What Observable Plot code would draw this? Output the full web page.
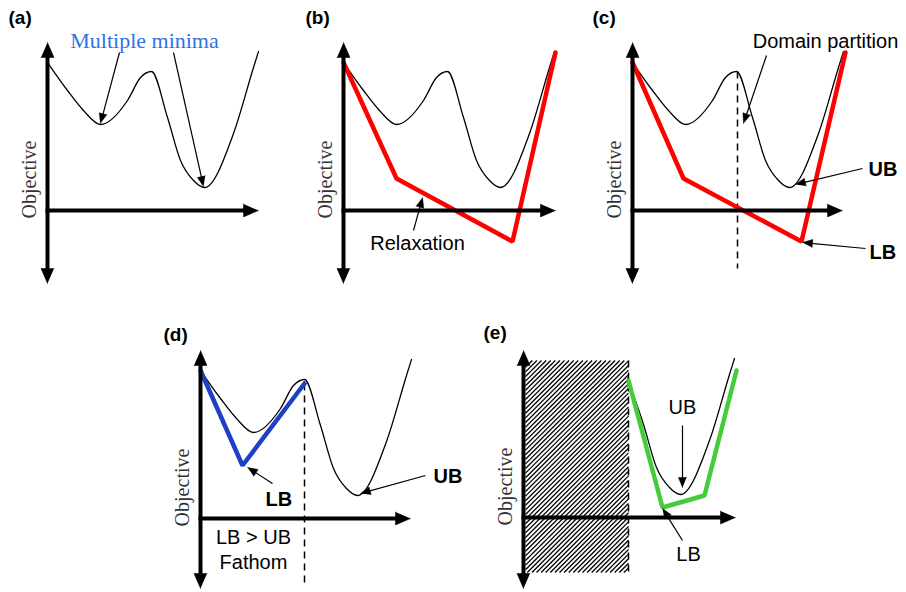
<!DOCTYPE html>
<html><head><meta charset="utf-8">
<script src="https://cdn.jsdelivr.net/npm/d3@7"></script>
<script src="https://cdn.jsdelivr.net/npm/@observablehq/plot@0.6"></script>
<style>body{margin:0;background:#fff}</style>
</head><body><div id="chart"></div>
<script>
// ---- data (panel-local units: x = decision variable, y = objective) ----
const landscapeX = [0, 20, 36, 53, 80, 93, 104, 120, 133, 146, 157, 186, 206, 211];
const landscapeY = [148, 120, 100, 86, 110, 133, 139, 93, 50, 30, 23, 77, 143, 159];
const relaxBX = [0, 53, 169, 212];
const relaxBY = [148, 32, -31, 158];
const relaxCX = [0, 51, 169, 213];
const relaxCY = [148, 32, -31, 158];
const relaxDX = [0, 42, 104];
const relaxDY = [148, 53, 135];
const relaxEX = [105, 139, 181, 213];
const relaxEY = [137, 10, 22, 147];
const partitionX = 104;
const panels = ["a", "b", "c", "d", "e"];
const panelLabels = ["(a)", "(b)", "(c)", "(d)", "(e)"];
const axisLabel = "Objective";

// ---- layout ----
const origin = {a: [47, 210], b: [343, 210], c: [632, 210], d: [200, 518], e: [523, 517]};
const axisTop = {a: 168, b: 168, c: 168, d: 168, e: 167};
const axisBottom = {a: -73, b: -73, c: -73, d: -70, e: -71};
const axisRight = {a: 211, b: 212, c: 210, d: 210, e: 212};
const G = (p, x, y) => ({x: origin[p][0] + x, y: origin[p][1] - y});

const SANS = "Liberation Sans, Arial, sans-serif";
const SERIF = "Liberation Serif, Times New Roman, serif";

// curves
const curves = [];
for (const p of ["a", "b", "c", "d"]) landscapeX.forEach((x, i) => curves.push({...G(p, x, landscapeY[i]), panel: p}));
landscapeX.forEach((x, i) => { if (x >= partitionX) curves.push({...G("e", x, landscapeY[i]), panel: "e"}); });

// relaxations
const relax = [];
const addRelax = (p, xs, ys, color) => xs.forEach((x, i) => relax.push({...G(p, x, ys[i]), panel: p, color}));
addRelax("b", relaxBX, relaxBY, "#ff0000");
addRelax("c", relaxCX, relaxCY, "#ff0000");
addRelax("d", relaxDX, relaxDY, "#1f3fc4");
addRelax("e", relaxEX, relaxEY, "#44cc3c");

// arrows helpers
const shafts = [], heads = [];
let hid = 0;
function arrow(p, lx1, ly1, lx2, ly2, L, W, width) {
  const a = G(p, lx1, ly1), b = G(p, lx2, ly2);
  const dx = b.x - a.x, dy = b.y - a.y, d = Math.hypot(dx, dy), ux = dx / d, uy = dy / d, nx = -uy, ny = ux;
  shafts.push({x1: a.x, y1: a.y, x2: b.x - 0.6 * L * ux, y2: b.y - 0.6 * L * uy, w: width});
  const id = hid++;
  heads.push({id, x: b.x, y: b.y}, {id, x: b.x - L * ux + W * nx, y: b.y - L * uy + W * ny},
             {id, x: b.x - L * ux - W * nx, y: b.y - L * uy - W * ny});
}
// axes (double-headed vertical, single-headed horizontal)
for (const p of panels) {
  arrow(p, 0, 0, 0, axisTop[p], 15, 6.5, 4);
  arrow(p, 0, 0, 0, axisBottom[p], 15, 6.5, 4);
  arrow(p, -2, 0, axisRight[p], 0, 15, 6.5, 4);
}
// annotation arrows
const annot = [
  ["a", 72, 158, 53, 87], ["a", 126, 158, 156, 24],
  ["b", 70, -20, 79, 13],
  ["c", 134, 155, 111, 87], ["c", 230, 42, 163, 26], ["c", 233, -38, 170, -32],
  ["d", 72, 35, 47, 51], ["d", 225, 43, 160, 25],
  ["e", 159, 92, 159, 30], ["e", 159, -23, 139, 9]
];
for (const [p, x1, y1, x2, y2] of annot) arrow(p, x1, y1, x2, y2, 10, 4, 1.2);

// dashed partitions
const dashes = [
  {...G("c", 105, 139), x2: G("c", 105, -58).x, y2: G("c", 105, -58).y},
  {...G("d", partitionX, 135), x2: G("d", partitionX, -69).x, y2: G("d", partitionX, -69).y},
  {...G("e", 105, 157), x2: G("e", 105, -55).x, y2: G("e", 105, -55).y}
];

// hatch (fathomed region in e)
const hx1 = 2, hx2 = 105, hy1 = -55, hy2 = 157, step = 4.6;
const hatch = [];
for (let c = hy1 - hx2; c <= hy2 - hx1; c += step) {
  const xa = Math.max(hx1, hy1 - c), xb = Math.min(hx2, hy2 - c);
  if (xb > xa) {
    const s = G("e", xa, xa + c), t = G("e", xb, xb + c);
    hatch.push({x1: s.x, y1: s.y, x2: t.x, y2: t.y});
  }
}

// texts grouped by style
const textsSansMid = [
  {...G("b", 74, -39), text: "Relaxation"},
  {...G("c", 193, 163), text: "Domain partition"},
  {...G("d", 53, -25), text: "LB > UB"},
  {...G("d", 53, -50), text: "Fathom"},
  {...G("e", 159, 104), text: "UB"},
  {...G("e", 165, -43), text: "LB"}
];
const textsBoldStart = [
  {...G("c", 236, 35), text: "UB"},
  {...G("c", 237, -48), text: "LB"},
  {...G("d", 65, 13), text: "LB"},
  {...G("d", 233, 36), text: "UB"}
];
const labelPos = {a: [-39, 187], b: [-38, 187], c: [-40, 187], d: [-37, 178], e: [-40, 179]};
const panelTexts = panels.map((p, i) => ({...G(p, labelPos[p][0], labelPos[p][1]), text: panelLabels[i]}));
const titleA = [{...G("a", 97, 163), text: "Multiple minima"}];
const yLabels = panels.map(p => ({...G(p, -18, 31), text: axisLabel}));

const chart = Plot.plot({
  width: 906, height: 592, margin: 0,
  x: {domain: [0, 906], axis: null},
  y: {domain: [0, 592], range: [0, 592], axis: null},
  style: {background: "white"},
  marks: [
    Plot.link(hatch, {x1: "x1", y1: "y1", x2: "x2", y2: "y2", stroke: "black", strokeWidth: 1.3}),
    Plot.link(dashes, {x1: "x", y1: "y", x2: "x2", y2: "y2", stroke: "black", strokeWidth: 1.5, strokeDasharray: "7,5"}),
    Plot.line(curves, {x: "x", y: "y", z: "panel", curve: "monotone-x", stroke: "black", strokeWidth: 1.3}),
    Plot.line(relax, {x: "x", y: "y", z: "panel", stroke: "color", strokeWidth: 4.5, strokeLinejoin: "miter"}),
    Plot.link(shafts, {x1: "x1", y1: "y1", x2: "x2", y2: "y2", stroke: "black", strokeWidth: "w", strokeLinecap: "butt"}),
    Plot.line(heads, {x: "x", y: "y", z: "id", fill: "black", stroke: "black", strokeWidth: 0.5, strokeLinejoin: "miter"}),
    Plot.text(textsSansMid, {x: "x", y: "y", text: "text", fontFamily: SANS, fontSize: 20, fill: "black", textAnchor: "middle", lineAnchor: "bottom"}),
    Plot.text(textsBoldStart, {x: "x", y: "y", text: "text", fontFamily: SANS, fontSize: 20, fontWeight: "bold", fill: "black", textAnchor: "start", lineAnchor: "bottom"}),
    Plot.text(panelTexts, {x: "x", y: "y", text: "text", fontFamily: SANS, fontSize: 19, fontWeight: "bold", fill: "black", textAnchor: "start", lineAnchor: "bottom"}),
    Plot.text(titleA, {x: "x", y: "y", text: "text", fontFamily: SERIF, fontSize: 22, fill: "#2f72e6", textAnchor: "middle", lineAnchor: "bottom"}),
    Plot.text(yLabels, {x: "x", y: "y", text: "text", rotate: -90, fontFamily: SERIF, fontSize: 20, fill: "#333", textAnchor: "middle", lineAnchor: "middle"})
  ]
});
document.getElementById("chart").append(chart);
</script>
</body></html>
